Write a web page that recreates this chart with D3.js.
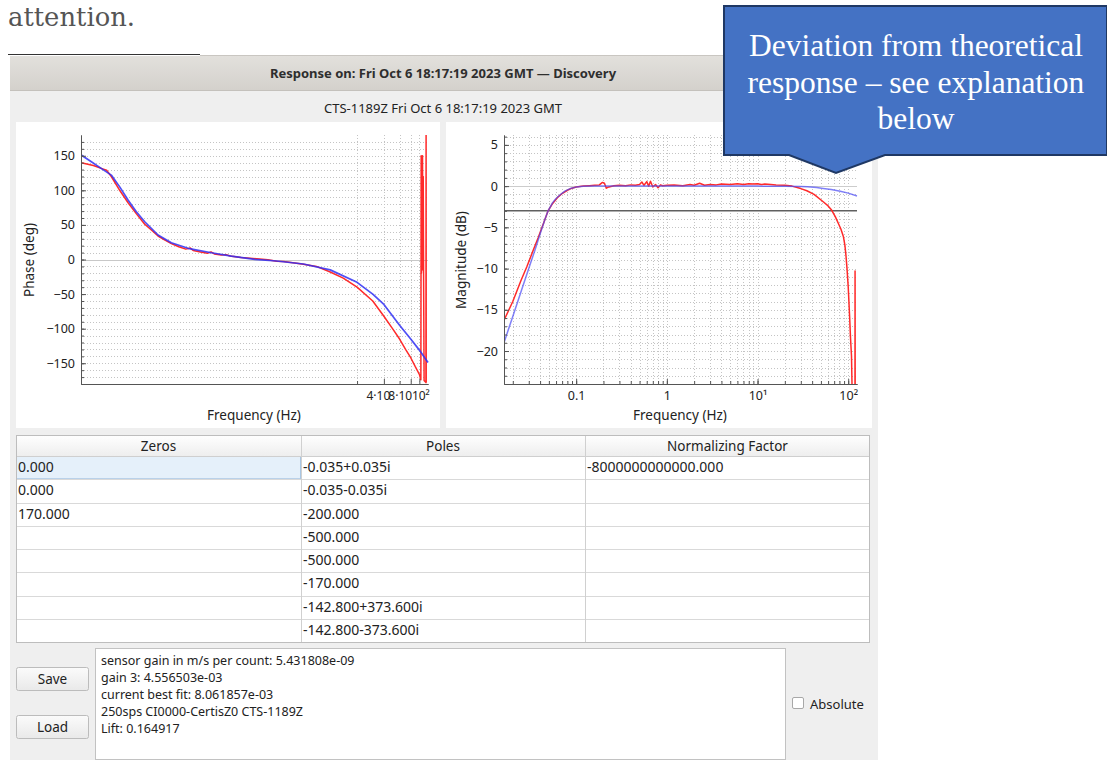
<!DOCTYPE html>
<html><head><meta charset="utf-8">
<script src="https://cdn.jsdelivr.net/npm/d3@7"></script>
<style>
body{margin:0;background:#fff;}
svg{display:block;}
text{font-family:"Noto Sans",sans-serif;}
</style>
</head><body>
<svg id="c" width="1107" height="760"></svg>
<script>
// ---------------- DATA ----------------
const magFreqTheory = [0.0161,0.02,0.025,0.03,0.035,0.04,0.045,0.049,0.055,0.06,0.0666,0.075,0.0859,0.1,0.12,0.15,1,10,20,30,35.3,45,53,65,81.7,100,125];
const magTheory     = [-18.9,-15.8,-12.6,-10.0,-7.8,-5.8,-4.1,-3.0,-2.0,-1.5,-1.05,-0.6,-0.3,-0.12,-0.02,0,0,0,-0.02,-0.04,-0.07,-0.17,-0.28,-0.42,-0.62,-0.85,-1.2];

const magFreqMeasured = [0.0161,0.02,0.0245,0.0285,0.033,0.038,0.044,0.049,0.055,0.062,0.07,0.08,0.09,0.1,0.12,0.14,0.16,0.18,0.195,0.205,0.215,0.23,0.26,0.3,0.35,0.4,0.45,0.5,0.53,0.56,0.6,0.63,0.66,0.7,0.75,0.8,0.85,0.9,1.0,1.2,1.5,1.8,2.0,2.3,2.6,3.0,3.5,4,5,6,7,8,9,10,11,12,14,16,20,24,30,35,42,53,60,65.6,72,77.7,83,88.4,92,94.6,97,100,102,104,106,108.7,110,111,118.7,119,119.4];
const magMeasured     = [-16.2,-14.0,-11.5,-9.8,-8.0,-6.3,-4.4,-3.0,-2.1,-1.4,-0.9,-0.5,-0.25,-0.1,0.0,0.05,0.1,0.15,0.45,0.35,-0.25,-0.1,0.05,0.1,0.05,0.15,0.1,0.2,0.5,0.1,0.55,0.0,0.6,-0.1,0.2,-0.2,0.15,0.05,0.1,0.15,0.05,0.2,0.1,0.35,0.1,0.2,0.15,0.25,0.2,0.3,0.2,0.3,0.25,0.3,0.2,0.25,0.2,0.15,0.1,0.0,-0.3,-0.56,-1.0,-1.9,-2.4,-2.9,-3.7,-4.5,-5.2,-6.1,-7.2,-8.5,-10,-12.2,-14.2,-16.2,-18.4,-20.6,-23.8,-28,-28,-10.3,-28];

const phaseFreqTheory = [0.0161,0.0209,0.02825,0.035,0.0435,0.0539,0.0668,0.083,0.117,0.165,0.254,0.464,0.778,1.424,2.5,5,10,20,30,40,60,80,100,119,125];
const phaseTheory     = [151,141.4,130,122,105,86,69,54.6,35.4,24.3,16.2,9.8,5,0.3,-2.2,-6.5,-15,-33,-50,-65,-95,-115,-131,-145,-149];

const phaseFreqMeasured = [0.0161,0.022,0.028,0.031,0.035,0.044,0.054,0.067,0.083,0.1,0.117,0.14,0.165,0.2,0.24,0.27,0.29,0.35,0.42,0.46,0.5,0.6,0.68,0.75,1,1.5,2,2.5,3,4,5,7,10,14,20,30,40,50,60,70,80,90,100,103,104,104.8,105.5,106.5,107.5,108.5,109.5,110.5,111.5,113,118.5,119,119.4];
const phaseMeasured     = [140,136,131,129,120,99,82,66,51,42,34,28,23,18.5,15,16.5,13,11,9,11,8,6.5,7,5,3,1,-0.5,-2.5,-3,-5,-7,-10,-18,-27,-40,-60,-82,-100,-115,-130,-142,-155,-166,-172,-174,150,-20,140,-15,150,-10,120,-18,-175,-178,180,-178];

const phaseTickValues = [-150,-100,-50,0,50,100,150];
const magTickValues = [-20,-15,-10,-5,0,5];
const magFreqTicks = [0.1,1,10,100];
const magFreqTickLabels = ["0.1","1","10\u00B9","10\u00B2"];
const phaseFreqTicks = [40,80,100];
const phaseFreqTickLabels = ["4\u00B710","8\u00B710","10\u00B2"];
const phaseGridFreqs = [20,40,60,80,100];

const tableHeaders = ["Zeros","Poles","Normalizing Factor"];
const zeros = ["0.000","0.000","170.000"];
const poles = ["-0.035+0.035i","-0.035-0.035i","-200.000","-500.000","-500.000","-170.000","-142.800+373.600i","-142.800-373.600i"];
const normFactor = ["-8000000000000.000"];
const infoLines = ["sensor gain in m/s per count: 5.431808e-09","gain 3: 4.556503e-03","current best fit: 8.061857e-03","250sps CI0000-CertisZ0 CTS-1189Z","Lift: 0.164917"];
const calloutLines = ["Deviation from theoretical","response \u2013 see explanation","below"];

// ---------------- DRAW ----------------
const svg = d3.select("#c");
const defs = svg.append("defs");
const tg = defs.append("linearGradient").attr("id","tb").attr("x1",0).attr("y1",0).attr("x2",0).attr("y2",1);
tg.append("stop").attr("offset","0").attr("stop-color","#e2e0dc");
tg.append("stop").attr("offset","1").attr("stop-color","#d4d1cc");
const bg = defs.append("linearGradient").attr("id","btn").attr("x1",0).attr("y1",0).attr("x2",0).attr("y2",1);
bg.append("stop").attr("offset","0").attr("stop-color","#fbfbfb");
bg.append("stop").attr("offset","1").attr("stop-color","#e9e9e9");
const hg = defs.append("linearGradient").attr("id","hdr").attr("x1",0).attr("y1",0).attr("x2",0).attr("y2",1);
hg.append("stop").attr("offset","0").attr("stop-color","#ffffff");
hg.append("stop").attr("offset","1").attr("stop-color","#eeeeee");

// document text above
svg.append("text").attr("x",8).attr("y",26)
  .style("font-family","'DejaVu Serif',serif").attr("font-size",26).attr("fill","#555")
  .attr("textLength",127).attr("lengthAdjust","spacingAndGlyphs").text("attention.");
svg.append("line").attr("x1",8).attr("x2",200).attr("y1",54.5).attr("y2",54.5).attr("stroke","#333").attr("stroke-width",1);

// window
svg.append("rect").attr("x",10).attr("y",56).attr("width",868).attr("height",710).attr("fill","#efefef");
svg.append("rect").attr("x",10).attr("y",56).attr("width",868).attr("height",34).attr("fill","url(#tb)");
svg.append("line").attr("x1",200).attr("x2",878).attr("y1",55.5).attr("y2",55.5).attr("stroke","#c9c6c1");
svg.append("line").attr("x1",10).attr("x2",878).attr("y1",90.5).attr("y2",90.5).attr("stroke","#c4c1bc");
svg.append("text").attr("x",443).attr("y",78).attr("text-anchor","middle").attr("font-size",13)
  .attr("font-weight","bold").attr("fill","#2e2e2e").text("Response on: Fri Oct 6 18:17:19 2023 GMT \u2014 Discovery");
svg.append("text").attr("x",443).attr("y",113).attr("text-anchor","middle").attr("font-size",13)
  .attr("fill","#222").text("CTS-1189Z Fri Oct 6 18:17:19 2023 GMT");

// panels
svg.append("rect").attr("x",16).attr("y",122).attr("width",424).attr("height",306).attr("fill","#fff");
svg.append("rect").attr("x",446).attr("y",122).attr("width",426).attr("height",306).attr("fill","#fff");

const gridColor = "#c4c4c4";
function dotted(g, x1,y1,x2,y2){
  g.append("line").attr("x1",x1).attr("y1",y1).attr("x2",x2).attr("y2",y2)
   .attr("stroke",gridColor).attr("stroke-width",1).attr("stroke-dasharray","1,2");
}

// ---- Phase plot ----
const xP = d3.scaleLog().domain([0.016,125]).range([81,428]);
const yP = d3.scaleLinear().domain([-180,180]).range([384,135]);
const gP = svg.append("g");
defs.append("clipPath").attr("id","clipP").append("rect").attr("x",81).attr("y",135).attr("width",348).attr("height",249);
d3.range(-170,180,10).forEach(v=>{ if(v!==0) dotted(gP,81,Math.round(yP(v))+0.5,428,Math.round(yP(v))+0.5); });
phaseGridFreqs.forEach(f=>dotted(gP,Math.round(xP(f))+0.5,135,Math.round(xP(f))+0.5,384));
gP.append("line").attr("x1",81).attr("x2",428).attr("y1",Math.round(yP(0))+0.5).attr("y2",Math.round(yP(0))+0.5).attr("stroke","#c8c8c8");

const lineP = (fs,vs)=>d3.line().x((d,i)=>xP(fs[i])).y(d=>yP(d))(vs);
const cP = gP.append("g").attr("clip-path","url(#clipP)");
cP.append("path").attr("d",lineP(phaseFreqMeasured,phaseMeasured)).attr("fill","none").attr("stroke","#ff2a2a").attr("stroke-width",1.5).attr("stroke-linejoin","round");
cP.append("path").attr("d",lineP(phaseFreqTheory,phaseTheory)).attr("fill","none").attr("stroke","#3030f5").attr("stroke-opacity",0.85).attr("stroke-width",1.7).attr("stroke-linejoin","round");

// axes
gP.append("g").attr("transform","translate(81,0)")
  .call(d3.axisLeft(yP).tickValues(phaseTickValues).tickSize(-5).tickSizeOuter(0).tickPadding(6));
gP.append("g").attr("transform","translate(81,0)")
  .call(d3.axisLeft(yP).tickValues(d3.range(-170,180,10)).tickSize(-3).tickSizeOuter(0).tickFormat(""));
const axPx = gP.append("g").attr("class","phx").attr("transform","translate(0,384)")
  .call(d3.axisBottom(xP).tickValues(phaseFreqTicks).tickFormat((d,i)=>phaseFreqTickLabels[i]).tickSize(-5).tickSizeOuter(0).tickPadding(7));
gP.append("g").attr("transform","translate(0,384)")
  .call(d3.axisBottom(xP).tickValues([20,60]).tickSize(-3).tickSizeOuter(0).tickFormat(""));
gP.append("text").attr("x",254).attr("y",420).attr("text-anchor","middle").attr("font-size",13.5).attr("fill","#222").text("Frequency (Hz)");
gP.append("text").attr("transform","translate(34,260) rotate(-90)").attr("text-anchor","middle").attr("font-size",13.5).attr("fill","#222").text("Phase (deg)");

// ---- Magnitude plot ----
const xM = d3.scaleLog().domain([0.016,125]).range([504,857]);
const yM = d3.scaleLinear().domain([-24,6.2]).range([384,135]);
const gM = svg.append("g");
defs.append("clipPath").attr("id","clipM").append("rect").attr("x",504).attr("y",135).attr("width",354).attr("height",249);
d3.range(-23,7,1).forEach(v=>{ if(v!==0 && v!==-3) dotted(gM,504,Math.round(yM(v))+0.5,857,Math.round(yM(v))+0.5); });
const magMinorFreqs = [];
[0.01,0.1,1,10,100].forEach(dec=>{ for(let k=1;k<10;k++){ const f=dec*k; if(f>=0.016 && f<=125) magMinorFreqs.push(f);} });
magMinorFreqs.forEach(f=>dotted(gM,Math.round(xM(f))+0.5,135,Math.round(xM(f))+0.5,384));
gM.append("line").attr("x1",504).attr("x2",857).attr("y1",Math.round(yM(0))+0.5).attr("y2",Math.round(yM(0))+0.5).attr("stroke","#cccccc");
gM.append("line").attr("x1",504).attr("x2",857).attr("y1",yM(-3)).attr("y2",yM(-3)).attr("stroke","#606060").attr("stroke-width",1.5);

const lineM = (fs,vs)=>d3.line().x((d,i)=>xM(fs[i])).y(d=>yM(d))(vs);
const cM = gM.append("g").attr("clip-path","url(#clipM)");
cM.append("path").attr("d",lineM(magFreqMeasured,magMeasured)).attr("fill","none").attr("stroke","#ff2a2a").attr("stroke-width",1.5).attr("stroke-linejoin","round");
cM.append("path").attr("d",lineM(magFreqTheory,magTheory)).attr("fill","none").attr("stroke","#4a4af5").attr("stroke-opacity",0.7).attr("stroke-width",1.5).attr("stroke-linejoin","round");

gM.append("g").attr("transform","translate(504,0)")
  .call(d3.axisLeft(yM).tickValues(magTickValues).tickSize(-5).tickSizeOuter(0).tickPadding(6));
gM.append("g").attr("transform","translate(504,0)")
  .call(d3.axisLeft(yM).tickValues(d3.range(-23,7,1)).tickSize(-3).tickSizeOuter(0).tickFormat(""));
gM.append("g").attr("transform","translate(0,384)")
  .call(d3.axisBottom(xM).tickValues(magFreqTicks).tickFormat((d,i)=>magFreqTickLabels[i]).tickSize(-5).tickSizeOuter(0).tickPadding(7));
gM.append("g").attr("transform","translate(0,384)")
  .call(d3.axisBottom(xM).tickValues(magMinorFreqs).tickSize(-3).tickSizeOuter(0).tickFormat(""));
gM.append("text").attr("x",680).attr("y",420).attr("text-anchor","middle").attr("font-size",13.5).attr("fill","#222").text("Frequency (Hz)");
gM.append("text").attr("transform","translate(466,260) rotate(-90)").attr("text-anchor","middle").attr("font-size",13.5).attr("fill","#222").text("Magnitude (dB)");

svg.selectAll(".domain").attr("stroke","#555");
svg.selectAll(".tick line").attr("stroke","#555");
svg.selectAll(".tick text").attr("font-size",12.5).attr("fill","#222").style("font-family","'Noto Sans',sans-serif");
// the crowded phase-axis labels sit slightly left of their ticks, as in the Qwt rendering
const phLabelShift = [-6,-11,1];
axPx.selectAll(".tick text").attr("dx",(d,i)=>phLabelShift[i]).attr("font-size",12);

// ---- Table ----
const tX = [16,301,585,870];
const tTop = 435, hdrH = 21, rowH = 23.25;
const tbl = svg.append("g");
tbl.append("rect").attr("x",16).attr("y",tTop).attr("width",854).attr("height",hdrH+rowH*8).attr("fill","#fff");
tbl.append("rect").attr("x",16).attr("y",tTop).attr("width",854).attr("height",hdrH).attr("fill","url(#hdr)");
tbl.append("rect").attr("x",16.5).attr("y",tTop+hdrH+0.5).attr("width",284).attr("height",rowH-1).attr("fill","#e5f0fa").attr("stroke","#a9c6e3");
d3.range(1,9).forEach(i=>{
  const y = Math.round(tTop+hdrH+rowH*i)+0.5;
  tbl.append("line").attr("x1",16).attr("x2",870).attr("y1",y).attr("y2",y).attr("stroke","#d9d9d9");
});
tbl.append("line").attr("x1",16).attr("x2",870).attr("y1",tTop+hdrH+0.5).attr("y2",tTop+hdrH+0.5).attr("stroke","#cfcfcf");
[301,585].forEach(x=>tbl.append("line").attr("x1",x+0.5).attr("x2",x+0.5).attr("y1",tTop).attr("y2",tTop+hdrH+rowH*8).attr("stroke","#d0d0d0"));
tbl.append("rect").attr("x",16.5).attr("y",tTop+0.5).attr("width",853).attr("height",hdrH+rowH*8).attr("fill","none").attr("stroke","#bdbdbd");
tableHeaders.forEach((h,i)=>tbl.append("text").attr("x",(tX[i]+tX[i+1])/2).attr("y",tTop+15.5).attr("text-anchor","middle").attr("font-size",13.5).attr("fill","#222").text(h));
const cols = [zeros,poles,normFactor];
cols.forEach((col,ci)=>col.forEach((v,ri)=>{
  tbl.append("text").attr("x",tX[ci]+2).attr("y",tTop+hdrH+rowH*ri+16).attr("font-size",14).attr("fill","#222").text(v);
}));

// ---- Buttons, text box, checkbox ----
[["Save",667],["Load",715]].forEach(([t,y])=>{
  svg.append("rect").attr("x",16.5).attr("y",y+0.5).attr("width",72).attr("height",23).attr("rx",2).attr("fill","url(#btn)").attr("stroke","#bcbcbc");
  svg.append("text").attr("x",52.5).attr("y",y+16.5).attr("text-anchor","middle").attr("font-size",13.5).attr("fill","#222").text(t);
});
svg.append("rect").attr("x",95.5).attr("y",648.5).attr("width",690).attr("height",111).attr("fill","#fff").attr("stroke","#c2c2c2");
infoLines.forEach((t,i)=>svg.append("text").attr("x",101).attr("y",665+i*16.9).attr("font-size",12.5).attr("fill","#222").text(t));
svg.append("rect").attr("x",792.5).attr("y",697.5).attr("width",11).attr("height",11).attr("rx",1.5).attr("fill","#fff").attr("stroke","#a8a8a8");
svg.append("text").attr("x",810).attr("y",708.5).attr("font-size",13).attr("fill","#222").text("Absolute");

// ---- Callout ----
const co = svg.append("g");
co.append("path").attr("d","M724,6 L1107,6 L1107,155 L885,155 L836,173 L789,155 L724,155 Z")
  .attr("fill","#4472c4").attr("stroke","#1f3864").attr("stroke-width",2).attr("stroke-linejoin","miter");
calloutLines.forEach((t,i)=>co.append("text").attr("x",916).attr("y",56+i*36.5).attr("text-anchor","middle")
  .style("font-family","'Liberation Serif','Times New Roman',serif").attr("font-size",31.5).attr("fill","#fff").text(t));
</script>
</body></html>
